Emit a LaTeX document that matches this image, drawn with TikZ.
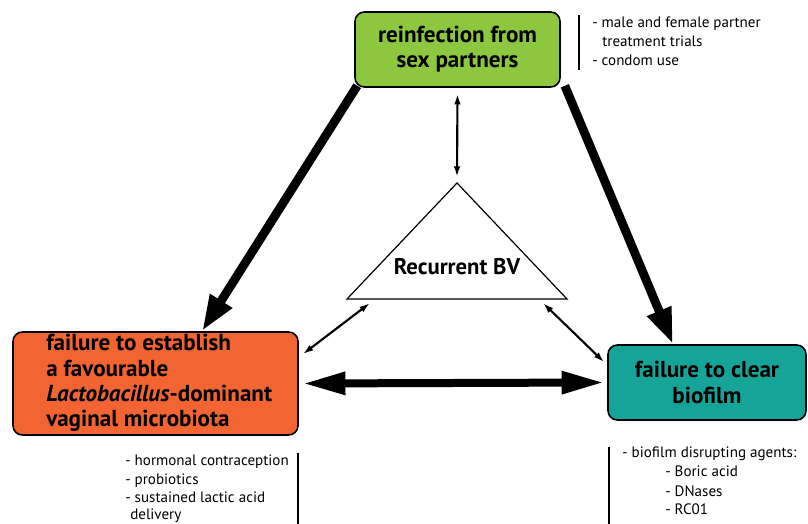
\documentclass[tikz,border=0pt]{standalone}
\usepackage{fontspec}
\setmainfont{PT Sans}
\usetikzlibrary{arrows.meta,calc}
\pgfdeclarelayer{background}
\pgfsetlayers{background,main}
\definecolor{boxgreen}{RGB}{141,198,63}
\definecolor{boxorange}{RGB}{242,101,50}
\definecolor{boxteal}{RGB}{22,164,152}
\begin{document}
\begin{tikzpicture}[x=0.75pt,y=-0.75pt,
  box/.style={draw=black,line width=1.2pt,rounded corners=7pt,inner sep=0pt,align=center},
  boxfont/.style={font=\fontsize{17.3}{18.9}\selectfont\bfseries},
  note/.style={font=\fontsize{11.3}{14}\selectfont,anchor=base west,inner sep=0pt},
  bar/.style={line width=1.6pt},
  thickarrow/.style={line width=6.6pt,-{Triangle[length=27pt,width=18pt]}},
  bigdouble/.style={line width=6pt,{Triangle[length=32pt,width=16pt]}-{Triangle[length=32pt,width=16pt]}},
  thinarrow/.style={line width=1.6pt,{Latex[length=8pt,width=5pt]}-{Latex[length=8pt,width=5pt]}}]
\useasboundingbox (0,0) rectangle (808,524);

% boxes
\node[box,fill=boxgreen,boxfont,minimum width=153.75pt,minimum height=56.25pt] (g) at (457.5,49.5) {reinfection from\\sex partners};
\node[box,fill=boxorange,minimum width=213.75pt,minimum height=77.25pt] (o) at (155.5,383.5) {};
\node[boxfont,align=left,anchor=west,inner sep=0pt] (otext) at (46,383) {failure to establish\\a favourable\\\textit{Lactobacillus}-dominant\\vaginal microbiota};
\node[box,fill=boxteal,boxfont,minimum width=148.5pt,minimum height=56.25pt] (t) at (707,382.5) {failure to clear\\biofilm};

% triangle
\coordinate (apex) at (457,183);
\coordinate (bl) at (347,299);
\coordinate (br) at (567,299);
\draw[line width=0.9pt,fill=white] (apex) -- (bl) -- (br) -- cycle;
\node[font=\fontsize{17}{19}\selectfont\bfseries] (rbv) at (457,267) {Recurrent BV};

% arrows
\begin{pgfonlayer}{background}
\draw[thickarrow] ($(g.south west)+(3,-2)$) -- ($(o.north)+(46.5,0)$);
\draw[thickarrow] ($(g.south east)+(4,-2)$) -- ($(t.north)+(-34,0)$);
\end{pgfonlayer}
\draw[bigdouble] ($(o.east)+(4,0)$) -- ($(t.west)+(-3,0)$);
\draw[thinarrow] ($(g.south)+(0,6)$) -- ($(apex)+(0,-6)$);
\draw[thinarrow] ($(bl)+(23,4)$) -- ($(o.north east)+(4,23)$);
\draw[thinarrow] ($(br)+(-24,4)$) -- ($(t.north west)+(-3,18)$);

% notes top right
\draw[bar] (579,15) -- (579,70);
\node[note] (n1a) at (592,28) {- male and female partner};
\node[note] (n1b) at (602,47) {treatment trials};
\node[note] (n1c) at (592,66) {- condom use};

% notes bottom left
\draw[bar] (298,453) -- (298,530);
\node[note] (n2a) at (125,465) {- hormonal contraception};
\node[note] (n2b) at (125,484) {- probiotics};
\node[note] (n2c) at (125,503) {- sustained lactic acid};
\node[note] (n2d) at (130,519) {delivery};

% notes bottom right
\draw[bar] (609,447) -- (609,530);
\node[note] (n3a) at (622,457) {- biofilm disrupting agents:};
\node[note] (n3b) at (665,476) {- Boric acid};
\node[note] (n3c) at (665,496) {- DNases};
\node[note] (n3d) at (665,514) {- RC01};
\end{tikzpicture}
\end{document}
